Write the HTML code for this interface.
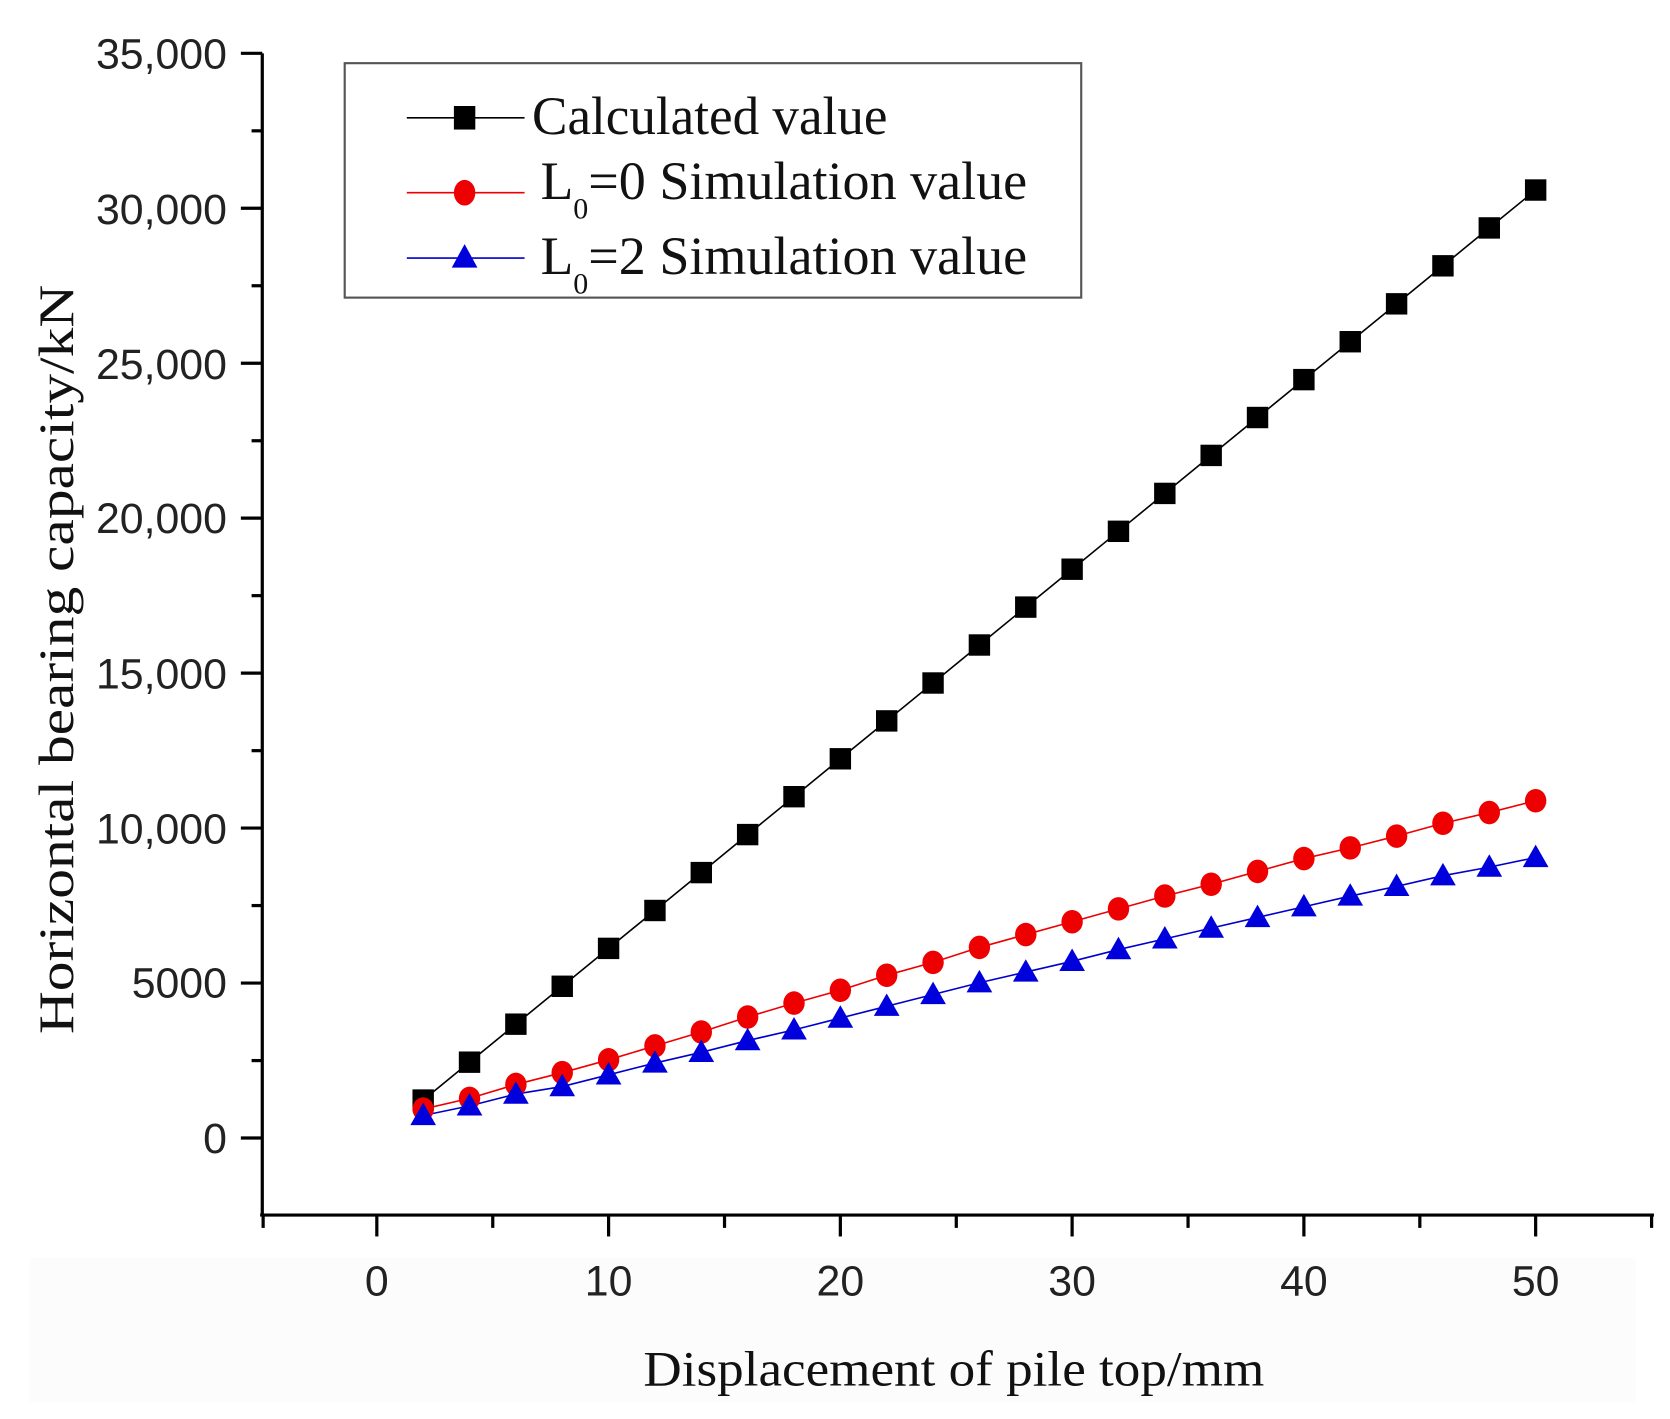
<!DOCTYPE html>
<html><head><meta charset="utf-8"><style>html,body{margin:0;padding:0;background:#fff}svg{display:block}</style></head>
<body>
<svg width="1670" height="1419" viewBox="0 0 1560 1325.5" xmlns="http://www.w3.org/2000/svg">
<rect x="0" y="0" width="1560" height="1325.5" fill="#fff"/>
<rect x="28" y="1175" width="1500" height="135" fill="#fcfcfc"/>
<g stroke="#000" stroke-width="3" fill="none">
<line x1="245" y1="49.8" x2="245" y2="1135"/>
<line x1="243" y1="1135" x2="1545" y2="1135"/>
<line x1="225" y1="49.8" x2="245" y2="49.8"/>
<line x1="225" y1="194.5" x2="245" y2="194.5"/>
<line x1="225" y1="339.3" x2="245" y2="339.3"/>
<line x1="225" y1="484" x2="245" y2="484"/>
<line x1="225" y1="628.8" x2="245" y2="628.8"/>
<line x1="225" y1="773.5" x2="245" y2="773.5"/>
<line x1="225" y1="918.3" x2="245" y2="918.3"/>
<line x1="225" y1="1063" x2="245" y2="1063"/>
<line x1="235" y1="122.2" x2="245" y2="122.2"/>
<line x1="235" y1="266.9" x2="245" y2="266.9"/>
<line x1="235" y1="411.7" x2="245" y2="411.7"/>
<line x1="235" y1="556.4" x2="245" y2="556.4"/>
<line x1="235" y1="701.2" x2="245" y2="701.2"/>
<line x1="235" y1="845.9" x2="245" y2="845.9"/>
<line x1="235" y1="990.7" x2="245" y2="990.7"/>
<line x1="245.8" y1="1135" x2="245.8" y2="1147"/>
<line x1="352" y1="1135" x2="352" y2="1155"/>
<line x1="460.3" y1="1135" x2="460.3" y2="1147"/>
<line x1="568.5" y1="1135" x2="568.5" y2="1155"/>
<line x1="676.8" y1="1135" x2="676.8" y2="1147"/>
<line x1="785" y1="1135" x2="785" y2="1155"/>
<line x1="893.3" y1="1135" x2="893.3" y2="1147"/>
<line x1="1001.5" y1="1135" x2="1001.5" y2="1155"/>
<line x1="1109.8" y1="1135" x2="1109.8" y2="1147"/>
<line x1="1218" y1="1135" x2="1218" y2="1155"/>
<line x1="1326.3" y1="1135" x2="1326.3" y2="1147"/>
<line x1="1434.5" y1="1135" x2="1434.5" y2="1155"/>
<line x1="1542.8" y1="1135" x2="1542.8" y2="1147"/>
</g>
<g font-family="Liberation Sans, Arial, sans-serif" font-size="40" fill="#222" text-anchor="end">
<text x="212" y="64">35,000</text>
<text x="212" y="209">30,000</text>
<text x="212" y="354">25,000</text>
<text x="212" y="498">20,000</text>
<text x="212" y="643">15,000</text>
<text x="212" y="788">10,000</text>
<text x="212" y="932">5000</text>
<text x="212" y="1077">0</text>
</g>
<g font-family="Liberation Sans, Arial, sans-serif" font-size="40" fill="#222" text-anchor="middle">
<text x="352" y="1210">0</text>
<text x="568.5" y="1210">10</text>
<text x="785" y="1210">20</text>
<text x="1001.5" y="1210">30</text>
<text x="1218" y="1210">40</text>
<text x="1434.5" y="1210">50</text>
</g>
<text x="891" y="1294" font-family="Liberation Serif, serif" font-size="46" text-anchor="middle" textLength="580" lengthAdjust="spacingAndGlyphs" fill="#111">Displacement of pile top/mm</text>
<text transform="translate(68,616) rotate(-90)" font-family="Liberation Serif, serif" font-size="46" text-anchor="middle" textLength="700" lengthAdjust="spacingAndGlyphs" fill="#111">Horizontal bearing capacity/kN</text>
<polyline fill="none" stroke="#000" stroke-width="1.5" points="395.3,1027.6 438.6,992.2 481.9,956.7 525.2,921.3 568.5,885.9 611.8,850.5 655.1,815.1 698.4,779.6 741.7,744.2 785,708.8 828.3,673.4 871.6,638 914.9,602.5 958.2,567.1 1001.5,531.7 1044.8,496.3 1088.1,460.9 1131.4,425.4 1174.7,390 1218,354.6 1261.3,319.2 1304.6,283.8 1347.9,248.3 1391.2,212.9 1434.5,177.5"/>
<polyline fill="none" stroke="#e00" stroke-width="1.5" points="395.3,1036 438.6,1026 481.9,1013 525.2,1002 568.5,990 611.8,977 655.1,964 698.4,950 741.7,937 785,925 828.3,911 871.6,899 914.9,885 958.2,873 1001.5,861 1044.8,849 1088.1,837 1131.4,826 1174.7,814 1218,802 1261.3,792 1304.6,781 1347.9,769 1391.2,759 1434.5,748"/>
<polyline fill="none" stroke="#00c" stroke-width="1.5" points="395.3,1042 438.6,1033 481.9,1022 525.2,1015 568.5,1004 611.8,993 655.1,983 698.4,972 741.7,962 785,951 828.3,940 871.6,929 914.9,918 958.2,908 1001.5,898 1044.8,887 1088.1,877 1131.4,867 1174.7,857 1218,847 1261.3,837 1304.6,828 1347.9,818 1391.2,810 1434.5,801"/>
<g fill="#000">
<rect x="385.3" y="1017.6" width="20" height="20"/><rect x="428.6" y="982.2" width="20" height="20"/><rect x="471.9" y="946.7" width="20" height="20"/><rect x="515.2" y="911.3" width="20" height="20"/><rect x="558.5" y="875.9" width="20" height="20"/><rect x="601.8" y="840.5" width="20" height="20"/><rect x="645.1" y="805.1" width="20" height="20"/><rect x="688.4" y="769.6" width="20" height="20"/><rect x="731.7" y="734.2" width="20" height="20"/><rect x="775" y="698.8" width="20" height="20"/><rect x="818.3" y="663.4" width="20" height="20"/><rect x="861.6" y="628" width="20" height="20"/><rect x="904.9" y="592.5" width="20" height="20"/><rect x="948.2" y="557.1" width="20" height="20"/><rect x="991.5" y="521.7" width="20" height="20"/><rect x="1034.8" y="486.3" width="20" height="20"/><rect x="1078.1" y="450.9" width="20" height="20"/><rect x="1121.4" y="415.4" width="20" height="20"/><rect x="1164.7" y="380" width="20" height="20"/><rect x="1208" y="344.6" width="20" height="20"/><rect x="1251.3" y="309.2" width="20" height="20"/><rect x="1294.6" y="273.8" width="20" height="20"/><rect x="1337.9" y="238.3" width="20" height="20"/><rect x="1381.2" y="202.9" width="20" height="20"/><rect x="1424.5" y="167.5" width="20" height="20"/>
</g>
<g fill="#e00">
<ellipse cx="395.3" cy="1036" rx="10" ry="11"/><ellipse cx="438.6" cy="1026" rx="10" ry="11"/><ellipse cx="481.9" cy="1013" rx="10" ry="11"/><ellipse cx="525.2" cy="1002" rx="10" ry="11"/><ellipse cx="568.5" cy="990" rx="10" ry="11"/><ellipse cx="611.8" cy="977" rx="10" ry="11"/><ellipse cx="655.1" cy="964" rx="10" ry="11"/><ellipse cx="698.4" cy="950" rx="10" ry="11"/><ellipse cx="741.7" cy="937" rx="10" ry="11"/><ellipse cx="785" cy="925" rx="10" ry="11"/><ellipse cx="828.3" cy="911" rx="10" ry="11"/><ellipse cx="871.6" cy="899" rx="10" ry="11"/><ellipse cx="914.9" cy="885" rx="10" ry="11"/><ellipse cx="958.2" cy="873" rx="10" ry="11"/><ellipse cx="1001.5" cy="861" rx="10" ry="11"/><ellipse cx="1044.8" cy="849" rx="10" ry="11"/><ellipse cx="1088.1" cy="837" rx="10" ry="11"/><ellipse cx="1131.4" cy="826" rx="10" ry="11"/><ellipse cx="1174.7" cy="814" rx="10" ry="11"/><ellipse cx="1218" cy="802" rx="10" ry="11"/><ellipse cx="1261.3" cy="792" rx="10" ry="11"/><ellipse cx="1304.6" cy="781" rx="10" ry="11"/><ellipse cx="1347.9" cy="769" rx="10" ry="11"/><ellipse cx="1391.2" cy="759" rx="10" ry="11"/><ellipse cx="1434.5" cy="748" rx="10" ry="11"/>
</g>
<g fill="#00d">
<path d="M395.3,1030 l12,21 h-24z"/><path d="M438.6,1021 l12,21 h-24z"/><path d="M481.9,1010 l12,21 h-24z"/><path d="M525.2,1003 l12,21 h-24z"/><path d="M568.5,992 l12,21 h-24z"/><path d="M611.8,981 l12,21 h-24z"/><path d="M655.1,971 l12,21 h-24z"/><path d="M698.4,960 l12,21 h-24z"/><path d="M741.7,950 l12,21 h-24z"/><path d="M785,939 l12,21 h-24z"/><path d="M828.3,928 l12,21 h-24z"/><path d="M871.6,917 l12,21 h-24z"/><path d="M914.9,906 l12,21 h-24z"/><path d="M958.2,896 l12,21 h-24z"/><path d="M1001.5,886 l12,21 h-24z"/><path d="M1044.8,875 l12,21 h-24z"/><path d="M1088.1,865 l12,21 h-24z"/><path d="M1131.4,855 l12,21 h-24z"/><path d="M1174.7,845 l12,21 h-24z"/><path d="M1218,835 l12,21 h-24z"/><path d="M1261.3,825 l12,21 h-24z"/><path d="M1304.6,816 l12,21 h-24z"/><path d="M1347.9,806 l12,21 h-24z"/><path d="M1391.2,798 l12,21 h-24z"/><path d="M1434.5,789 l12,21 h-24z"/>
</g>
<rect x="322" y="59" width="688" height="219" fill="#fff" stroke="#555" stroke-width="2"/>
<line x1="380" y1="110" x2="490" y2="110" stroke="#000" stroke-width="1.5"/>
<rect x="424" y="99" width="20" height="22" fill="#000"/>
<line x1="380" y1="180" x2="490" y2="180" stroke="#e00" stroke-width="1.5"/>
<ellipse cx="434" cy="180" rx="10" ry="12" fill="#e00"/>
<line x1="380" y1="241" x2="490" y2="241" stroke="#00c" stroke-width="1.5"/>
<path d="M434,228 l12,22 h-24z" fill="#00d"/>
<g font-family="Liberation Serif, serif" font-size="50" fill="#111">
<text x="497" y="125" textLength="332" lengthAdjust="spacingAndGlyphs">Calculated value</text>
<text x="505" y="186">L<tspan font-size="28" dy="18">0</tspan><tspan dy="-18" textLength="410" lengthAdjust="spacingAndGlyphs">=0 Simulation value</tspan></text>
<text x="505" y="256">L<tspan font-size="28" dy="18">0</tspan><tspan dy="-18" textLength="410" lengthAdjust="spacingAndGlyphs">=2 Simulation value</tspan></text>
</g>
</svg>
</body></html>
